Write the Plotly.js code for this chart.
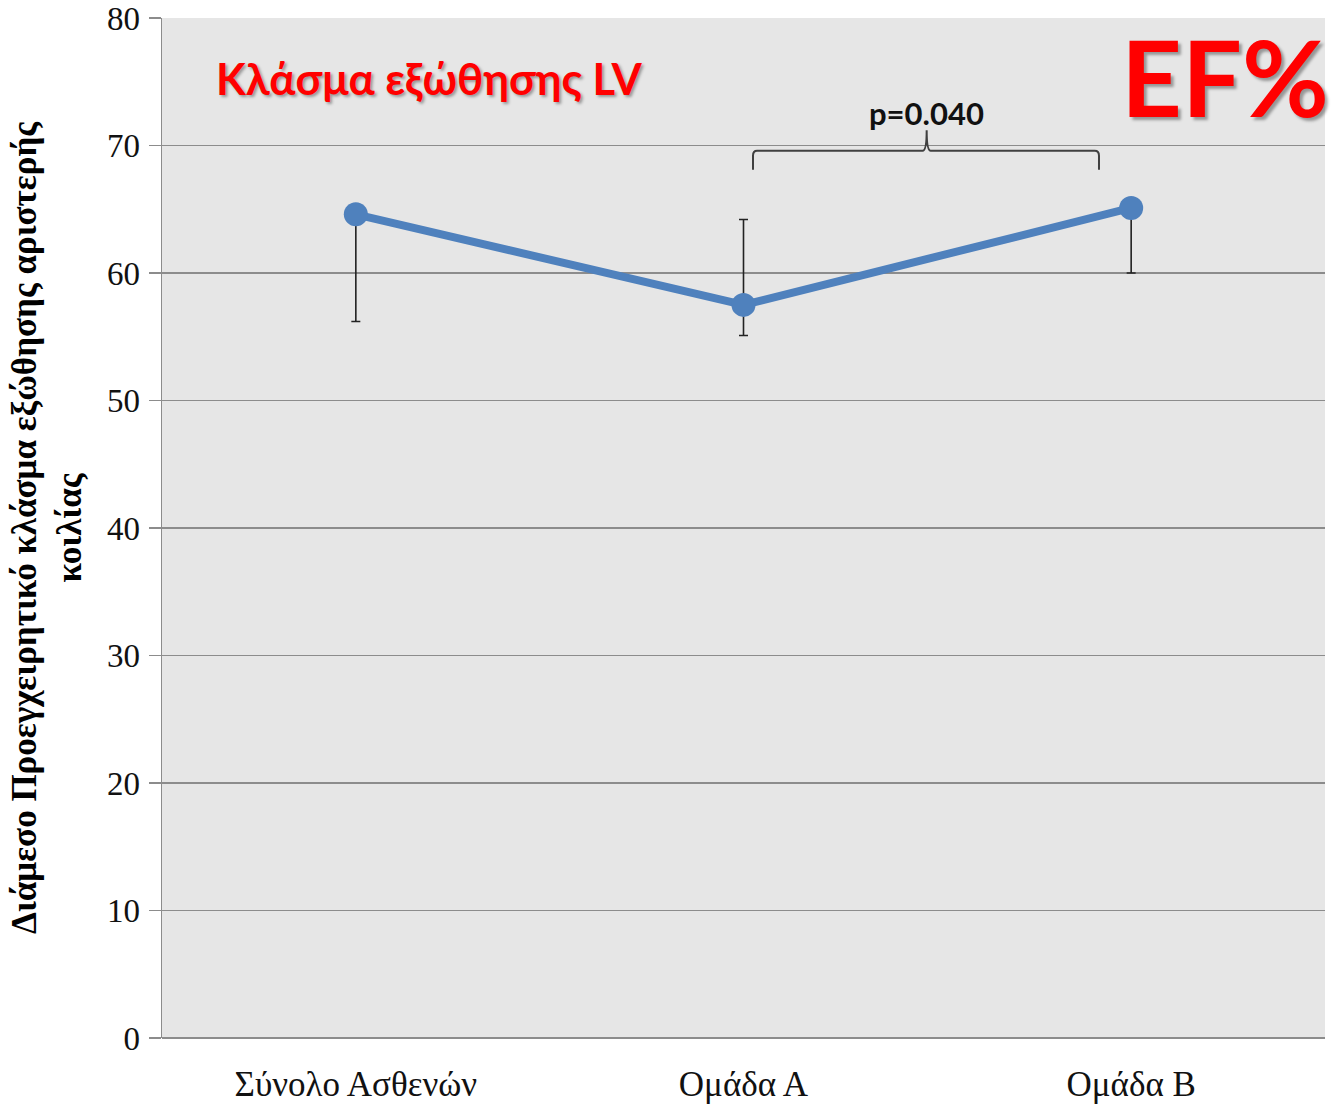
<!DOCTYPE html>
<html>
<head>
<meta charset="utf-8">
<script src="https://cdn.plot.ly/plotly-3.0.1.min.js"></script>
<style>html,body{margin:0;padding:0;background:#fff;}#chart{width:1334px;height:1110px;}</style>
</head>
<body>
<div id="chart"></div>
<script>
// Data
var categories = ["Σύνολο Ασθενών", "Ομάδα Α", "Ομάδα Β"];
var medians = [64.6, 57.5, 65.1];
var upperBounds = [64.6, 64.2, 65.1];
var lowerBounds = [56.2, 55.1, 60.0];
var yTicks = [0, 10, 20, 30, 40, 50, 60, 70, 80];
var yTitle = "Διάμεσο Προεγχειρητικό κλάσμα εξώθησης αριστερής<br>κοιλίας";
var mainLabel = "Κλάσμα εξώθησης LV";
var cornerLabel = "EF%";
var pLabel = "p=0.040";

var errPlus = medians.map(function (m, i) { return upperBounds[i] - m; });
var errMinus = medians.map(function (m, i) { return m - lowerBounds[i]; });

var trace = {
  x: categories,
  y: medians,
  type: "scatter",
  mode: "lines+markers",
  line: { color: "#4f81bd", width: 8 },
  marker: { color: "#4f81bd", size: 24 },
  error_y: {
    type: "data",
    symmetric: false,
    array: errPlus,
    arrayminus: errMinus,
    color: "#222222",
    thickness: 1.6,
    width: 4.5
  },
  hoverinfo: "skip"
};

var layout = {
  width: 1334,
  height: 1110,
  margin: { l: 162, r: 9, t: 18, b: 72 },
  paper_bgcolor: "#ffffff",
  plot_bgcolor: "#e6e6e6",
  showlegend: false,
  font: { family: "Liberation Serif, serif", color: "#000" },
  xaxis: {
    type: "category",
    range: [-0.5, 2.5],
    showgrid: false,
    zeroline: false,
    showline: false,
    ticks: "",
    ticklabelstandoff: 22,
    tickfont: { family: "Liberation Serif, serif", size: 35, color: "#111" },
    fixedrange: true
  },
  yaxis: {
    range: [0, 80],
    tickvals: yTicks,
    ticktext: yTicks.map(String),
    showgrid: true,
    gridcolor: "#8c8c8c",
    gridwidth: 1.5,
    zeroline: true,
    zerolinecolor: "#8c8c8c",
    zerolinewidth: 1.5,
    showline: true,
    linecolor: "#8c8c8c",
    linewidth: 1.5,
    ticks: "outside",
    ticklen: 12,
    tickwidth: 1.5,
    tickcolor: "#8c8c8c",
    ticklabelstandoff: 2,
    tickfont: { family: "Liberation Serif, serif", size: 33, color: "#111" },
    title: {
      text: yTitle,
      font: { family: "Liberation Serif, serif", size: 35, color: "#000", weight: "bold" },
      standoff: 14
    },
    fixedrange: true
  },
  shapes: [
    {
      type: "path",
      xref: "x", yref: "y",
      path: "M 1.0245 68.1 L 1.0245 69.2 Q 1.0245 69.59 1.035 69.59 L 1.462 69.59 Q 1.4725 69.59 1.4725 71.2 Q 1.4725 69.59 1.483 69.59 L 1.906 69.59 Q 1.917 69.59 1.917 69.2 L 1.917 68.1",
      line: { color: "#404040", width: 2 }
    }
  ],
  annotations: [
    {
      text: mainLabel,
      xref: "paper", yref: "paper",
      x: (429 - 162) / 1163, y: (1038 - 78) / 1020,
      xanchor: "center", yanchor: "middle",
      showarrow: false,
      font: { family: "Lato, sans-serif", size: 43.5, color: "#ff0000", weight: "bold", shadow: "2px 2px 3px rgba(0,0,0,0.35)" }
    },
    {
      text: cornerLabel,
      xref: "paper", yref: "paper",
      x: (1225 - 162) / 1163, y: (1038 - 76) / 1020,
      xanchor: "center", yanchor: "middle",
      showarrow: false,
      font: { family: "Lato, sans-serif", size: 106, color: "#ff0000", weight: "bold", shadow: "3px 3px 3px rgba(0,0,0,0.35)" }
    },
    {
      text: pLabel,
      xref: "paper", yref: "paper",
      x: (926 - 162) / 1163, y: (1038 - 113) / 1020,
      xanchor: "center", yanchor: "middle",
      showarrow: false,
      font: { family: "Lato, sans-serif", size: 31, color: "#111", weight: "bold" }
    }
  ]
};

Plotly.newPlot("chart", [trace], layout, { staticPlot: true, displayModeBar: false });
</script>
</body>
</html>
